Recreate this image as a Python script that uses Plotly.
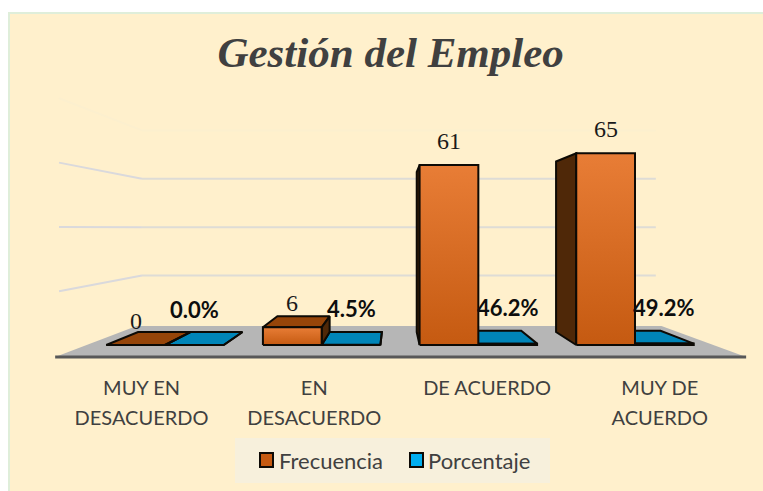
"""Gestión del Empleo: faux 3D column chart drawn on plain Plotly axes."""

import plotly.graph_objects as go

CATEGORIES = [["MUY EN", "DESACUERDO"], ["EN", "DESACUERDO"], ["DE ACUERDO"], ["MUY DE", "ACUERDO"]]
FRECUENCIA = [0, 6, 61, 65]
PORCENTAJE = [0.0, 0.045, 0.462, 0.492]
PORCENTAJE_LABELS = ["0.0%", "4.5%", "46.2%", "49.2%"]
SERIES_NAMES = ["Frecuencia", "Porcentaje"]
WALL_TICKS = [20, 40, 60]
WALL_TOP = 80

W, H = 763, 491
CREAM = "#FFF0CC"
GRID = "#DEDCD6"
SIDE_GRID = "#DAD9DC"
FAINT = "#FCEFCE"
INK = "#0D0A05"
TEXT = "#404040"

# perspective of the fake 3D scene, in axis units
HORIZON_U = 1.46
HORIZON_V = 39.7
BAR_DEPTH = 0.1106
FLOOR_BACK = 0.1624
GRID_BACK = 0.18
GRID_FRONT = -0.09
FLOOR_FRONT = -0.1026
BAR_W = 0.375
FLOOR_U = (-0.5, 3.5)


def project(u, v, depth):
    return u + depth * (HORIZON_U - u), v + depth * (HORIZON_V - v)


def poly(points, **style):
    xs = [p[0] for p in points] + [points[0][0]]
    ys = [p[1] for p in points] + [points[0][1]]
    return go.Scatter(x=xs, y=ys, mode="lines", fill="toself", showlegend=False, hoverinfo="skip", **style)


def edge(color=INK, width=2):
    return dict(color=color, width=width)


def segment(p, q, color, width=2):
    return go.Scatter(x=[p[0], q[0]], y=[p[1], q[1]], mode="lines", line=dict(color=color, width=width),
                      showlegend=False, hoverinfo="skip")


def bar_faces(u0, value, front, top_color, side_color):
    u1 = u0 + BAR_W
    a, b = project(u0, 0, 0), project(u1, 0, 0)
    c, d = project(u1, value, 0), project(u0, value, 0)
    ba, bb = project(u0, 0, BAR_DEPTH), project(u1, 0, BAR_DEPTH)
    bc, bd = project(u1, value, BAR_DEPTH), project(u0, value, BAR_DEPTH)
    faces = []
    if value < HORIZON_V:
        faces.append(poly([d, c, bc, bd], fillcolor=top_color, line=edge()))
    if u0 > HORIZON_U:
        faces.append(poly([a, d, bd, ba], fillcolor=side_color, line=edge()))
    if u1 < HORIZON_U:
        faces.append(poly([b, c, bc, bb], fillcolor=side_color, line=edge()))
    faces.append(poly([a, b, c, d], line=edge(), **front))
    return faces


def px_rect(x0, y0, x1, y1, **style):
    # paper coordinates from picture pixels, for the card and legend furniture
    return dict(type="rect", xref="paper", yref="paper", x0=x0 / W, x1=x1 / W, y0=1 - y0 / H, y1=1 - y1 / H, **style)


fig = go.Figure()

# floor
fl = [project(FLOOR_U[0], 0, FLOOR_FRONT), project(FLOOR_U[1], 0, FLOOR_FRONT),
      project(FLOOR_U[1], 0, FLOOR_BACK), project(FLOOR_U[0], 0, FLOOR_BACK)]
fig.add_trace(poly(fl, fillcolor="#B6B6B6", line=dict(width=0)))
fig.add_trace(segment(fl[0], fl[1], "#585858", 3))

# wall and side grid lines
for tick in WALL_TICKS + [WALL_TOP]:
    left = project(FLOOR_U[0], tick, GRID_FRONT)
    corner = project(FLOOR_U[0], tick, GRID_BACK)
    right = project(FLOOR_U[1], tick, GRID_BACK)
    fig.add_trace(segment(left, corner, FAINT if tick == WALL_TOP else SIDE_GRID))
    fig.add_trace(segment(corner, right, FAINT if tick == WALL_TOP else GRID))

for i, (freq, pct) in enumerate(zip(FRECUENCIA, PORCENTAJE)):
    for face in bar_faces(i, pct, dict(fillcolor="#0090C4"), "#0085B8", "#00668C"):
        fig.add_trace(face)
    gradient = dict(fillgradient=dict(type="vertical", colorscale=[[0, "#C55A11"], [1, "#E87D36"]]))
    for face in bar_faces(i - BAR_W, freq, gradient, "#964509", "#4F2808"):
        fig.add_trace(face)

for i, (freq, pct, label) in enumerate(zip(FRECUENCIA, PORCENTAJE, PORCENTAJE_LABELS)):
    fig.add_annotation(x=i - BAR_W / 2, y=freq, yshift=24, text=str(freq), showarrow=False,
                       font=dict(family="Liberation Serif", size=24, color="#1A1A1A"))
    fig.add_annotation(x=i + BAR_W / 2, y=pct, yshift=36, text=label, showarrow=False,
                       font=dict(family="Lato", size=22, color="#0D0D0D", weight="bold"))

# legend: swatch sits tight against its text, closer than a Plotly legend allows
for name, text_x in zip(SERIES_NAMES, [279, 428]):
    fig.add_annotation(xref="paper", yref="paper", x=text_x / W, y=1 - 460 / H, xanchor="left", yanchor="middle",
                       text=name, showarrow=False, xshift=-2, font=dict(family="Lato", size=22, color=TEXT))

fig.update_layout(
    width=W,
    height=H,
    margin=dict(l=0, r=0, t=0, b=0),
    paper_bgcolor="white",
    plot_bgcolor="rgba(0,0,0,0)",
    showlegend=False,
    title=dict(text="<b><i>Gestión del Empleo</i></b>", x=0.512, xanchor="center", y=1 - 52 / H, yanchor="middle",
               font=dict(family="Liberation Serif", size=43, color=TEXT)),
    shapes=[
        px_rect(9, 13, 775, 500, layer="below", fillcolor=CREAM, line=dict(color="#DFEEDA", width=2)),
        px_rect(235, 438, 550, 483, layer="below", fillcolor="#F7F0DC", line=dict(width=0)),
        px_rect(260, 453, 273, 467, layer="above", fillcolor="#C55A11", line=dict(color=INK, width=2)),
        px_rect(410, 453, 423, 467, layer="above", fillcolor="#00AEEF", line=dict(color=INK, width=2)),
    ],
)
fig.update_xaxes(
    range=[-1.0532, 3.8170],
    showgrid=False,
    zeroline=False,
    showline=False,
    ticks="",
    tickmode="array",
    # labels sit on the floor's front edge, so they follow its perspective
    tickvals=[project(i, 0, FLOOR_FRONT)[0] for i in range(len(CATEGORIES))],
    ticktext=['<span style="font-size:20px">' + "<br>".join(c) + "</span>" for c in CATEGORIES],
    tickfont=dict(family="Lato", size=23, color=TEXT),
    ticklabelstandoff=-1,
)
fig.update_yaxes(range=[-9.15, 116.95], domain=[119 / H, 1], visible=False)

fig.write_html("out.html", post_script="document.body.style.margin='0';", config={"displayModeBar": False})
